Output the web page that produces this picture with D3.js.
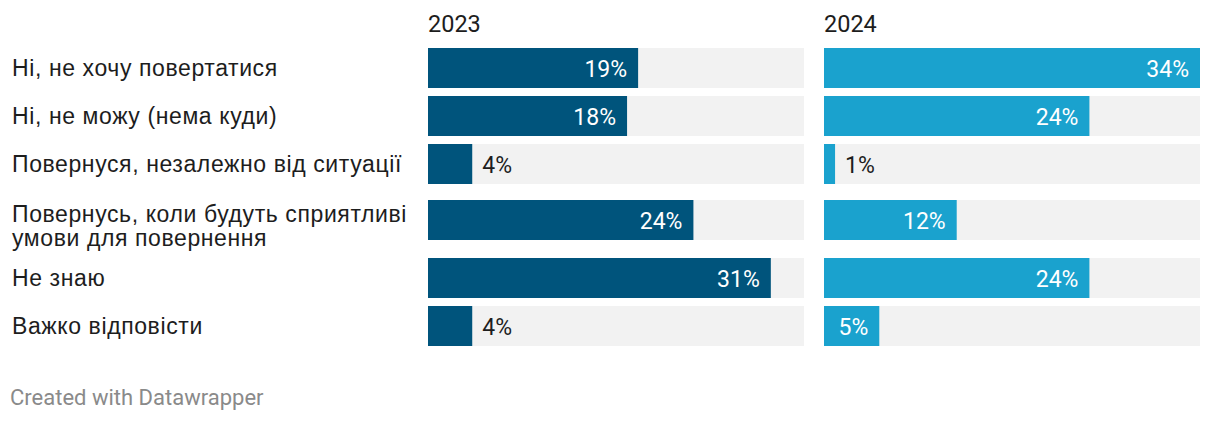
<!DOCTYPE html>
<html><head><meta charset="utf-8">
<script src="https://cdn.jsdelivr.net/npm/d3@7"></script>
<style>
html,body{margin:0;padding:0;background:#fff;}
svg{display:block;font-family:Roboto,"Noto Sans",sans-serif;}
</style></head>
<body>
<svg id="chart" width="1220" height="422"></svg>
<script>
const categories = [
  ["Ні, не хочу повертатися"],
  ["Ні, не можу (нема куди)"],
  ["Повернуся, незалежно від ситуації"],
  ["Повернусь, коли будуть сприятливі", "умови для повернення"],
  ["Не знаю"],
  ["Важко відповісти"]
];
const years = ["2023", "2024"];
const values2023 = [19, 18, 4, 24, 31, 4];
const values2024 = [34, 24, 1, 12, 24, 5];
const seriesValues = [values2023, values2024];
const colors = ["#00547c", "#1aa2ce"];

const svg = d3.select("#chart");
const panelX = [428, 824];
const panelW = 376;
const barH = 40;

const x = d3.scaleLinear().domain([0, d3.max([...values2023, ...values2024])]).range([0, panelW]);

// row positions
const rowTops = [];
let y = 48;
categories.forEach((c, i) => {
  if (c.length > 1) y += 8;
  rowTops.push(y);
  y += barH + (c.length > 1 ? 10 : 0) + 8;
});

// labels
const lab = svg.append("g");
categories.forEach((lines, i) => {
  const cy = rowTops[i] + barH / 2;
  const lh = 23.5;
  const shift = lines.length > 1 ? 6 : 0;
  const t = lab.append("text").attr("x", 12)
    .attr("font-family", "'Liberation Sans', Arial, sans-serif")
    .attr("font-size", 23).attr("letter-spacing", 0.6).attr("fill", "#1d1d1d");
  lines.forEach((l, j) => {
    t.append("tspan").attr("x", 12)
      .attr("y", cy + (j - (lines.length - 1) / 2) * lh + 8 + shift)
      .text(l);
  });
});

// panels
years.forEach((yr, p) => {
  const g = svg.append("g").attr("transform", `translate(${panelX[p]},0)`);
  g.append("text").attr("x", 0).attr("y", 32).attr("font-size", 23.5).attr("fill", "#1d1d1d").text(yr);
  seriesValues[p].forEach((v, i) => {
    const top = rowTops[i];
    g.append("rect").attr("x", 0).attr("y", top).attr("width", x.range()[1]).attr("height", barH).attr("fill", "#f2f2f2");
    const w = x(v);
    g.append("rect").attr("x", 0).attr("y", top).attr("width", w).attr("height", barH).attr("fill", colors[p]);
    const txt = g.append("text").attr("y", top + barH / 2 + 8.5).attr("font-size", 23).text(v + "%");
    const tw = txt.node().getComputedTextLength();
    if (tw + 16 <= w) {
      txt.attr("x", w - 11).attr("text-anchor", "end").attr("fill", "#fff");
    } else {
      txt.attr("x", w + 10).attr("text-anchor", "start").attr("fill", "#1d1d1d");
    }
  });
});

svg.append("text").attr("x", 10).attr("y", 405).attr("font-size", 22).attr("fill", "#8a8a8a").text("Created with Datawrapper");
</script>
</body></html>
